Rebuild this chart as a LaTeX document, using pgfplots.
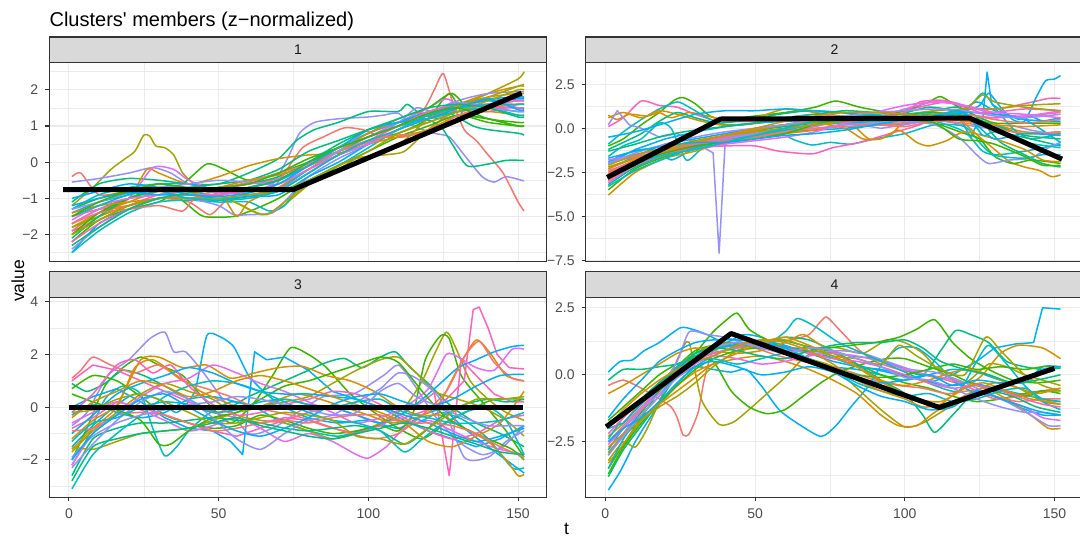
\documentclass[border=0pt]{standalone}
\usepackage{fontspec}
\setmainfont{Liberation Sans}
\usepackage{pgfplots}
\pgfplotsset{compat=1.18}

% ggplot2 hue palette (10 levels) and theme_bw greys
\definecolor{hA}{HTML}{F8766D}
\definecolor{hB}{HTML}{D89000}
\definecolor{hC}{HTML}{A3A500}
\definecolor{hD}{HTML}{39B600}
\definecolor{hE}{HTML}{00BF7D}
\definecolor{hF}{HTML}{00BFC4}
\definecolor{hG}{HTML}{00B0F6}
\definecolor{hH}{HTML}{9590FF}
\definecolor{hI}{HTML}{E76BF3}
\definecolor{hJ}{HTML}{FF62BC}
\definecolor{grey10}{HTML}{1A1A1A}
\definecolor{grey20}{HTML}{333333}
\definecolor{grey30}{HTML}{4D4D4D}
\definecolor{grey85}{HTML}{D9D9D9}
\definecolor{grey92}{HTML}{EBEBEB}

\pgfplotsset{
  facet/.style={
    scale only axis, width=248.7pt, anchor=south west,
    xmin=-6.55, xmax=159.55,
    axis line style={draw=none},
    tick pos=left, tick align=outside,
    major tick length=2pt, minor tick length=0pt,
    tick style={grey20, line width=0.55pt},
    xtick={0,50,100,150}, minor xtick={25,75,125},
    xmajorgrids, ymajorgrids, xminorgrids, yminorgrids,
    major grid style={grey92, line width=0.55pt},
    minor grid style={grey92, line width=0.28pt},
    ticklabel style={font=\fontsize{7}{8}\selectfont, text=grey30},
    clip mode=individual,
  },
  toprow/.style={height=99.5pt, xticklabels={}, xtick style={draw=none}},
  botrow/.style={height=100pt, xticklabels={0,50,100,150}},
  mem/.style={no markers, line width=0.75pt, smooth, tension=0.4, line join=round},
  proto/.style={no markers, black, line width=2.5pt, line join=round, sharp plot},
}
\newcommand{\panelframe}{\draw[grey20, line width=0.55pt] (rel axis cs:0,0) rectangle (rel axis cs:1,1);}

\begin{document}
\begin{tikzpicture}
\path[use as bounding box] (0pt,0pt) rectangle (540pt,268pt);

\node[anchor=base west, inner sep=0pt, font=\fontsize{10}{12}\selectfont] at (24.6pt,254.6pt) {Clusters\textquotesingle{} members (z−normalized)};

% ---------------- cluster 1 ----------------
\begin{axis}[facet, toprow, at={(24.65pt,137.15pt)},
  ymin=-2.75, ymax=2.75, ytick={-2,-1,0,1,2}, yticklabels={−2,−1,0,1,2},
  minor ytick={-2.5,-1.5,-0.5,0.5,1.5,2.5}]
\addplot[mem,hA] coordinates {(1,-0.4)(4,-0.3)(10,-0.9)(20,-0.8)(30,-0.7)(40,-0.8)(50,-0.75)(60,-0.6)(70,-0.45)(80,-0.1)(90,0.3)(100,0.55)(110,0.8)(120,1.1)(130,1.4)(140,1.6)(150,1.8)(152,1.8)};
\addplot[mem,hC] coordinates {(1,-1.2)(8,-0.7)(14,-0.2)(18,0.05)(22,0.3)(25,0.75)(27,0.72)(29,0.45)(32,0.4)(35,0.2)(38,-0.3)(42,-0.6)(50,-0.9)(58,-1.2)(64,-1.45)(70,-1.3)(76,-0.9)(85,-0.3)(95,0.1)(105,0.2)(112,0.3)(120,0.9)(130,1.5)(140,1.9)(150,2.3)(152,2.5)};
\addplot[mem,hH] coordinates {(1,-0.55)(10,-0.45)(20,-0.3)(28,-0.15)(34,-0.3)(40,-0.6)(50,-0.8)(60,-0.8)(68,-0.6)(73,0.1)(77,0.8)(82,1.1)(90,1.2)(100,1.25)(105,1.3)(110,1.35)(115,1.0)(122,0.8)(127,0.7)(132,0.2)(138,-0.4)(142,-0.55)(146,-0.4)(152,-0.52)};
\addplot[mem,hE] coordinates {(1,-1.1)(10,-0.6)(20,-0.45)(30,-0.5)(40,-0.6)(50,-0.6)(60,-0.3)(70,0.1)(76,0.6)(82,0.9)(90,1.1)(100,1.4)(110,1.4)(113,1.6)(118,1.3)(125,1.2)(130,1.3)(140,1.2)(150,1.0)(152,1.0)};
\addplot[mem,hA] coordinates {(1,-1.9)(10,-1.4)(20,-1.2)(30,-1.0)(40,-1.1)(47,-1.45)(52,-1.1)(60,-0.7)(70,-0.5)(80,-0.1)(90,0.3)(100,0.7)(110,1.0)(118,1.4)(122,2.0)(125,2.45)(128,1.7)(132,0.9)(136,0.6)(140,0.2)(145,-0.3)(150,-1.1)(152,-1.35)};
\addplot[mem,hE] coordinates {(1,-1.7)(10,-1.3)(20,-1.0)(30,-0.9)(40,-0.8)(50,-0.7)(60,-0.6)(70,-0.4)(80,0.0)(90,0.4)(100,0.7)(110,1.0)(118,1.2)(124,1.0)(128,0.5)(133,-0.1)(140,-0.05)(146,0.05)(152,0.05)};
\addplot[mem,hA] coordinates {(1,-1.5)(10,-1.3)(20,-1.2)(30,-1.0)(40,-1.0)(50,-0.9)(60,-0.8)(68,-0.7)(72,-0.3)(78,0.4)(85,0.7)(92,0.95)(98,0.9)(105,0.7)(112,0.7)(120,0.9)(130,1.5)(140,1.6)(150,1.7)(152,1.7)};
\addplot[mem,hD] coordinates {(1,-2.2)(10,-1.6)(20,-1.3)(30,-1.1)(35,-0.9)(40,-1.2)(45,-1.5)(55,-1.5)(62,-1.3)(70,-1.0)(80,-0.5)(90,-0.1)(100,0.3)(110,0.7)(120,1.0)(130,1.3)(140,1.1)(150,1.0)(152,1.0)};
\addplot[mem,hD] coordinates {(1,-1.3)(10,-1.0)(20,-0.8)(30,-0.8)(38,-0.6)(46,-0.05)(52,-0.2)(60,-0.5)(70,-0.3)(80,0.0)(90,0.3)(100,0.6)(110,0.8)(120,1.2)(127,1.9)(132,1.3)(140,1.5)(150,1.6)(152,1.6)};
\addplot[mem,hB] coordinates {(1,-2.0)(10,-1.5)(20,-1.0)(26,-0.2)(30,-0.3)(40,-0.6)(50,-0.4)(60,-0.1)(70,0.1)(80,0.2)(90,0.25)(100,0.5)(110,0.9)(120,1.3)(130,1.6)(140,1.9)(150,2.1)(152,2.1)};
\addplot[mem,hG] coordinates {(1,-2.5)(10,-1.7)(20,-1.3)(30,-1.0)(40,-1.0)(50,-1.05)(60,-0.95)(70,-0.8)(80,-0.3)(90,0.2)(100,0.5)(110,0.9)(120,1.2)(130,1.5)(140,1.7)(150,1.5)(152,1.5)};
\addplot[mem,hF] coordinates {(1,-2.5)(10,-1.9)(20,-1.4)(30,-1.1)(40,-1.05)(50,-1.1)(60,-1.1)(67,-1.35)(72,-1.2)(78,-0.6)(88,-0.2)(100,0.4)(110,0.9)(120,1.2)(130,1.4)(140,1.5)(150,1.4)(152,1.4)};
\addplot[mem,hI] coordinates {(1,-1.7)(10,-1.3)(20,-1.0)(28,-0.15)(35,-0.2)(40,-0.5)(50,-0.8)(60,-0.9)(70,-0.7)(80,-0.2)(90,0.3)(100,0.7)(110,1.1)(120,1.5)(126,1.75)(132,1.5)(140,1.4)(150,1.6)(152,1.6)};
\addplot[mem,hH] coordinates {(1,-2.4)(10,-1.8)(20,-1.3)(30,-1.0)(40,-1.0)(50,-1.2)(55,-1.45)(60,-1.45)(68,-1.4)(73,-1.0)(80,-0.4)(90,0.1)(100,0.5)(110,1.1)(120,1.3)(130,1.7)(140,1.9)(150,1.95)(152,1.95)};
\addplot[mem,hJ] coordinates {(1,-1.9)(10,-1.6)(20,-1.2)(30,-0.9)(40,-0.8)(50,-0.7)(60,-0.6)(70,-0.5)(80,-0.1)(90,0.3)(100,0.7)(110,1.0)(120,1.2)(130,1.4)(140,1.5)(150,1.5)(152,1.5)};
\addplot[mem,hB] coordinates {(1,-1.8)(10,-1.4)(20,-1.1)(30,-0.8)(40,-0.7)(50,-0.8)(56,-1.5)(60,-1.1)(70,-0.7)(80,-0.2)(90,0.2)(100,0.5)(110,0.7)(120,0.9)(130,1.3)(140,1.4)(150,1.3)(152,1.3)};
\addplot[mem,hC] coordinates {(1,-1.8)(10,-1.5)(20,-1.2)(30,-1.0)(40,-1.0)(50,-0.9)(60,-1.3)(66,-1.45)(72,-1.1)(80,-0.6)(90,-0.2)(96,0.1)(104,0.2)(112,0.6)(120,1.2)(130,1.6)(140,1.8)(150,2.1)(152,2.15)};
\addplot[mem,hE] coordinates {(1,-2.1)(10,-1.5)(20,-1.0)(30,-0.8)(40,-0.7)(50,-0.6)(60,-0.5)(70,-0.2)(80,0.3)(90,0.6)(100,0.9)(110,1.1)(120,1.3)(127,1.35)(135,1.0)(140,0.9)(150,0.8)(152,0.75)};
\addplot[mem,hD] coordinates {(1,-2.0)(10,-1.4)(20,-1.0)(30,-0.7)(40,-0.75)(50,-0.8)(60,-0.7)(70,-0.5)(80,0.0)(90,0.4)(100,0.8)(110,1.2)(120,1.5)(128,1.9)(135,1.3)(140,1.2)(150,1.0)(152,1.0)};
\addplot[mem,hG] coordinates {(1,-1.4)(10,-1.1)(20,-0.9)(30,-0.6)(40,-0.8)(50,-0.9)(60,-0.7)(70,-0.5)(80,-0.1)(90,0.4)(100,0.8)(110,1.1)(120,1.4)(130,1.6)(140,1.75)(150,1.8)(152,1.8)};
\addplot[mem,hF] coordinates {(1,-1.3)(10,-0.9)(20,-0.7)(30,-0.6)(40,-0.6)(50,-0.8)(60,-0.9)(70,-0.75)(80,-0.2)(90,0.3)(100,0.7)(110,1.0)(120,1.2)(130,1.4)(140,1.5)(150,1.3)(152,1.3)};
\addplot[mem,hG] coordinates {(1,-1.0)(10,-0.8)(20,-0.6)(30,-0.7)(40,-0.9)(50,-1.0)(60,-0.95)(70,-0.9)(80,-0.4)(90,0.0)(100,0.5)(110,0.9)(120,1.3)(130,1.6)(140,1.7)(150,1.75)(152,1.75)};
\addplot[mem,hI] coordinates {(1,-1.6)(10,-1.2)(20,-1.0)(30,-0.9)(40,-0.75)(50,-0.85)(60,-0.8)(70,-0.75)(80,-0.3)(90,0.2)(100,0.5)(110,0.9)(120,1.3)(130,1.5)(140,1.6)(150,1.7)(152,1.7)};
\addplot[mem,hB] coordinates {(1,-1.4)(10,-1.2)(20,-1.1)(30,-1.0)(40,-0.9)(50,-0.7)(60,-0.5)(70,-0.35)(80,-0.1)(90,0.3)(100,0.8)(110,1.1)(120,1.2)(130,1.55)(140,1.8)(150,1.9)(152,1.9)};
\addplot[mem,hA] coordinates {(1,-1.7)(10,-1.4)(20,-1.3)(30,-1.2)(38,-1.35)(42,-1.0)(50,-0.75)(60,-0.55)(70,-0.3)(80,-0.05)(90,0.3)(100,0.6)(110,0.75)(120,0.8)(130,1.3)(140,1.5)(150,1.6)(152,1.6)};
\addplot[mem,hH] coordinates {(1,-1.3)(10,-1.1)(20,-0.85)(30,-0.7)(40,-0.6)(50,-0.5)(60,-0.55)(70,-0.6)(80,-0.2)(90,0.3)(100,0.9)(110,1.1)(116,1.5)(122,1.4)(128,1.65)(135,1.6)(140,1.5)(150,1.4)(152,1.4)};
\addplot[mem,hC] coordinates {(1,-2.0)(10,-1.6)(20,-1.2)(30,-1.0)(40,-1.0)(50,-1.0)(60,-0.9)(70,-0.8)(80,-0.5)(90,-0.1)(100,0.3)(110,0.8)(120,1.1)(130,1.4)(140,1.7)(150,2.0)(152,2.0)};
\addplot[mem,hJ] coordinates {(1,-2.2)(10,-1.7)(20,-1.3)(30,-1.0)(40,-0.9)(50,-0.9)(60,-0.8)(70,-0.6)(80,-0.2)(90,0.2)(100,0.6)(110,1.0)(120,1.4)(130,1.6)(140,1.6)(150,1.7)(152,1.7)};
\addplot[mem,hF] coordinates {(1,-1.5)(10,-1.2)(20,-0.9)(30,-0.8)(40,-1.0)(50,-1.05)(60,-1.0)(70,-0.8)(80,-0.3)(90,0.2)(100,0.6)(110,0.9)(120,1.3)(130,1.5)(140,1.6)(150,1.6)(152,1.6)};
\addplot[mem,hG] coordinates {(1,-1.2)(10,-1.0)(20,-0.85)(30,-0.9)(40,-0.9)(50,-0.95)(60,-0.85)(70,-0.6)(80,-0.1)(90,0.4)(100,0.9)(110,1.1)(120,1.2)(130,1.5)(140,1.75)(150,1.45)(152,1.45)};
\addplot[mem,hD] coordinates {(1,-1.5)(10,-1.1)(20,-0.8)(30,-0.6)(40,-0.7)(50,-0.7)(60,-0.6)(70,-0.3)(80,0.1)(90,0.4)(100,0.7)(110,1.0)(120,1.35)(130,1.5)(140,1.2)(150,1.1)(152,1.1)};
\addplot[mem,hE] coordinates {(1,-2.3)(10,-1.8)(20,-1.3)(30,-1.0)(40,-0.85)(50,-0.75)(60,-0.7)(70,-0.5)(80,0.0)(90,0.5)(100,0.9)(110,1.2)(120,1.5)(130,1.6)(140,1.5)(150,1.25)(152,1.25)};
\addplot[proto] coordinates {(-1.9,-0.76)(74.8,-0.76)(151.2,1.91)};
\panelframe
\end{axis}

% ---------------- cluster 2 ----------------
\begin{axis}[facet, toprow, at={(292.85pt,137.15pt)},
  ymin=-7.58, ymax=3.73, ytick={-7.5,-5,-2.5,0,2.5}, yticklabels={−7.5,−5.0,−2.5,0.0,2.5},
  minor ytick={-6.25,-3.75,-1.25,1.25}]
\addplot[mem,hJ] coordinates {(1,0.1)(6,0.6)(12,1.55)(18,1.3)(24,1.2)(30,0.8)(38,0.4)(50,0.4)(60,0.6)(70,0.8)(80,0.6)(90,0.5)(100,1.0)(110,1.4)(115,1.5)(120,1.2)(130,1.1)(140,1.4)(148,1.7)(152,1.7)};
\addplot[mem,hD] coordinates {(1,-1.0)(6,-0.6)(12,0.2)(18,0.9)(23,1.6)(26,1.75)(30,1.4)(35,0.7)(40,0.5)(50,0.7)(60,0.9)(70,1.2)(77,1.55)(85,1.2)(95,0.9)(100,1.0)(108,1.5)(112,1.8)(118,1.2)(124,0.7)(130,0.3)(140,0.3)(152,0.3)};
\addplot[mem,hB] coordinates {(1,0.75)(4,0.5)(8,0.8)(14,0.7)(18,0.9)(22,0.6)(28,0.9)(34,0.7)(40,0.5)(50,0.6)(60,1.1)(70,0.9)(80,0.6)(88,-0.6)(95,-0.4)(100,0.4)(110,0.9)(120,0.5)(130,0.2)(140,-0.2)(152,-0.3)};
\addplot[mem,hF] coordinates {(1,-0.9)(6,-0.2)(12,0.5)(18,1.1)(24,1.5)(28,1.2)(34,0.6)(40,0.2)(50,0.3)(60,0.5)(70,0.6)(80,0.7)(90,0.6)(100,0.5)(110,0.7)(120,1.0)(126,2.0)(130,1.2)(136,0.0)(142,-0.6)(152,-0.3)};
\addplot[mem,hB] coordinates {(1,0.6)(6,0.9)(12,0.6)(18,1.0)(24,0.8)(30,0.5)(38,0.2)(46,0.2)(56,0.4)(66,0.6)(76,0.5)(86,0.3)(96,0.2)(106,0.4)(116,0.6)(124,0.3)(132,0.0)(140,-0.3)(152,-0.2)};
\addplot[mem,hE] coordinates {(1,-1.2)(6,-0.8)(12,-0.3)(18,0.4)(24,0.9)(30,0.6)(38,0.3)(48,0.5)(58,0.8)(68,1.0)(78,0.9)(88,0.7)(98,0.8)(108,1.2)(116,1.0)(124,0.4)(132,-0.2)(142,-0.6)(152,-1.0)};
\addplot[mem,hG] coordinates {(1,-1.9)(6,-1.5)(12,-1.2)(18,-1.3)(22,-1.8)(28,-1.3)(34,-0.8)(40,-0.6)(50,-0.4)(60,-0.2)(70,-0.1)(80,0.0)(90,0.2)(100,0.3)(110,0.5)(118,0.9)(124,1.5)(130,1.0)(140,0.5)(152,0.4)};
\addplot[mem,hH,sharp plot] coordinates {(1,0.2)(4,1.0)(8,0.2)(12,0.0)(18,-0.5)(24,-0.3)(30,-0.8)(36,-1.4)(38,-7.1)(40,-0.85)(46,-0.3)(55,0.1)(65,0.3)(75,0.4)(85,0.2)(92,0.0)(100,0.2)(110,0.5)(120,0.2)(128,0.0)(135,0.2)(142,-0.1)(152,-0.4)};
\addplot[mem,hF] coordinates {(1,-1.6)(6,-1.0)(12,-0.6)(18,0.3)(22,0.0)(27,-1.8)(32,-1.2)(40,-0.6)(50,-0.5)(57,-0.2)(63,-0.65)(69,-0.95)(75,-0.8)(82,-0.9)(90,-0.6)(100,-0.3)(110,0.2)(120,0.1)(126,-1.0)(130,-1.5)(140,-1.3)(152,-0.9)};
\addplot[mem,hG,sharp plot] coordinates {(1,-2.0)(10,-1.2)(20,-0.6)(30,-0.2)(40,0.1)(50,0.3)(60,0.4)(70,0.4)(80,0.3)(90,0.4)(100,0.5)(110,0.4)(118,0.7)(122,-0.5)(124,0.2)(126,0.5)(127.5,3.2)(129,1.4)(133,0.9)(138,0.5)(142,0.7)(146,0.4)(152,0.6)};
\addplot[mem,hG] coordinates {(1,-2.3)(10,-1.6)(20,-0.9)(30,-0.6)(40,-0.3)(50,0.0)(60,0.2)(70,0.3)(80,0.5)(90,0.5)(100,0.7)(110,0.8)(120,1.0)(125,1.3)(128,2.0)(132,1.2)(136,0.5)(140,0.4)(144,1.8)(147,2.7)(150,2.8)(152,3.0)};
\addplot[mem,hJ] coordinates {(1,-2.0)(10,-1.6)(20,-1.3)(30,-1.1)(40,-1.0)(50,-1.0)(58,-1.3)(69,-1.45)(76,-1.1)(85,-0.8)(95,-0.3)(105,0.2)(112,0.8)(120,0.8)(130,0.6)(140,0.7)(152,0.9)};
\addplot[mem,hB] coordinates {(1,-3.8)(10,-2.5)(20,-1.7)(30,-1.3)(40,-0.8)(50,-0.5)(60,-0.3)(70,-0.1)(80,0.2)(90,0.3)(100,0.4)(110,0.6)(118,0.5)(125,-0.5)(130,-1.2)(135,-1.9)(140,-2.2)(145,-2.4)(149,-2.75)(152,-2.65)};
\addplot[mem,hD] coordinates {(1,-3.5)(10,-2.3)(20,-1.6)(30,-1.1)(40,-0.6)(50,-0.2)(60,0.2)(70,0.5)(80,0.7)(90,0.6)(100,0.6)(110,0.3)(120,-0.3)(125,-0.6)(130,-1.6)(136,-2.0)(142,-1.8)(148,-1.9)(152,-2.0)};
\addplot[mem,hE] coordinates {(1,-3.2)(10,-2.2)(20,-1.5)(30,-1.0)(40,-0.5)(50,-0.1)(60,0.1)(70,0.3)(80,0.5)(90,0.5)(100,0.7)(110,1.0)(118,1.2)(125,0.5)(132,-0.8)(140,-1.5)(146,-2.0)(152,-2.2)};
\addplot[mem,hA] coordinates {(1,-2.6)(10,-1.8)(20,-1.3)(30,-0.9)(40,-0.5)(50,-0.3)(60,0.0)(70,0.2)(80,0.3)(90,0.2)(100,0.3)(110,0.6)(120,0.8)(130,0.5)(140,0.3)(152,0.5)};
\addplot[mem,hC] coordinates {(1,-2.2)(10,-1.7)(20,-1.2)(30,-0.8)(40,-0.4)(50,-0.1)(60,0.2)(70,0.4)(80,0.6)(90,0.7)(100,0.8)(110,1.0)(120,1.1)(130,1.1)(140,1.3)(152,1.4)};
\addplot[mem,hI] coordinates {(1,-1.8)(10,-1.5)(20,-1.2)(30,-0.9)(40,-0.6)(50,-0.4)(60,-0.2)(70,0.1)(80,0.5)(90,0.9)(100,1.3)(110,1.5)(120,1.3)(130,0.8)(140,0.7)(152,1.0)};
\addplot[mem,hH] coordinates {(1,-2.9)(10,-2.0)(20,-1.4)(30,-1.0)(40,-0.6)(50,-0.3)(60,-0.1)(70,0.0)(80,0.2)(90,0.3)(100,0.4)(110,0.2)(118,-0.5)(124,-1.5)(128,-2.0)(135,-1.8)(142,-1.7)(148,-1.1)(152,-0.8)};
\addplot[mem,hF] coordinates {(1,-3.3)(10,-2.4)(20,-1.7)(30,-1.1)(40,-0.7)(50,-0.4)(60,-0.1)(70,0.2)(80,0.3)(90,0.4)(100,0.5)(110,0.4)(120,-0.2)(126,-1.3)(132,-1.6)(140,-1.7)(146,-1.5)(152,-1.5)};
\addplot[mem,hB] coordinates {(1,-2.5)(10,-1.8)(20,-1.3)(30,-0.9)(40,-0.4)(50,-0.1)(60,0.2)(70,0.3)(80,0.0)(86,-0.6)(92,-0.6)(98,-0.1)(104,-0.8)(108,-1.0)(114,-0.7)(120,-0.2)(130,-0.6)(140,-1.2)(146,-1.8)(152,-1.9)};
\addplot[mem,hG] coordinates {(1,-0.5)(10,-0.2)(20,0.3)(30,0.8)(40,1.0)(50,1.0)(60,1.1)(70,1.0)(80,0.9)(90,0.7)(100,0.6)(110,0.5)(120,0.9)(130,0.8)(140,0.5)(152,-0.8)};
\addplot[mem,hJ] coordinates {(1,-2.4)(10,-1.9)(20,-1.4)(30,-0.9)(40,-0.5)(50,-0.2)(60,0.0)(70,0.2)(80,0.4)(90,0.5)(100,0.9)(105,1.5)(112,1.6)(118,1.4)(125,0.9)(130,0.9)(140,1.1)(152,1.0)};
\addplot[mem,hE] coordinates {(1,-1.3)(10,-0.9)(20,-0.4)(30,-0.1)(40,0.1)(50,0.3)(60,0.6)(70,0.8)(80,1.0)(90,0.9)(100,0.8)(110,0.9)(120,0.7)(130,0.2)(140,-0.4)(152,-0.6)};
\addplot[mem,hA] coordinates {(1,-3.0)(10,-2.0)(20,-1.5)(30,-1.0)(40,-0.7)(50,-0.5)(60,-0.2)(70,0.0)(80,0.1)(90,0.2)(100,0.1)(110,0.4)(120,0.3)(130,0.0)(140,-0.3)(152,-0.2)};
\addplot[mem,hD] coordinates {(1,-2.7)(10,-1.9)(20,-1.4)(30,-1.0)(40,-0.8)(50,-0.6)(60,-0.3)(70,0.2)(80,0.5)(90,0.6)(100,0.5)(110,0.3)(118,-0.6)(124,-0.7)(130,-0.9)(140,-1.6)(146,-2.1)(152,-2.1)};
\addplot[mem,hC] coordinates {(1,-2.1)(10,-1.5)(20,-1.1)(30,-0.7)(40,-0.4)(50,-0.2)(60,0.0)(70,0.2)(80,0.4)(90,0.5)(100,0.6)(110,0.8)(120,1.1)(126,1.9)(130,1.5)(140,1.2)(152,1.0)};
\addplot[mem,hI] coordinates {(1,-3.1)(10,-2.1)(20,-1.5)(30,-1.2)(40,-0.9)(50,-0.7)(60,-0.5)(70,-0.2)(80,0.3)(90,0.6)(100,1.1)(110,1.5)(120,1.3)(130,0.9)(140,0.8)(152,0.6)};
\addplot[mem,hF] coordinates {(1,-2.8)(10,-2.0)(20,-1.5)(30,-1.2)(40,-0.8)(50,-0.4)(60,0.0)(70,0.4)(80,0.6)(90,0.8)(100,0.5)(110,0.7)(120,0.9)(126,-0.4)(130,-0.2)(140,-0.8)(152,-1.1)};
\addplot[mem,hH] coordinates {(1,-2.0)(10,-1.4)(20,-0.9)(30,-0.5)(40,-0.2)(50,0.0)(60,0.2)(70,0.5)(80,0.7)(90,0.9)(100,1.0)(110,1.1)(120,1.0)(130,0.7)(140,0.6)(152,0.8)};
\addplot[mem,hB] coordinates {(1,-2.3)(10,-1.7)(20,-1.2)(30,-0.8)(40,-0.4)(50,0.0)(60,0.4)(70,0.7)(80,0.9)(90,0.9)(100,0.8)(110,0.6)(120,0.4)(130,0.2)(140,0.1)(152,0.2)};
\addplot[mem,hG] coordinates {(1,-1.7)(10,-1.3)(20,-1.0)(30,-0.8)(40,-0.8)(50,-0.6)(60,-0.4)(70,-0.3)(80,-0.1)(90,0.2)(100,0.5)(110,0.7)(118,1.0)(124,0.2)(130,-0.6)(140,-0.3)(152,-0.4)};
\addplot[proto] coordinates {(0.6,-2.79)(38.5,0.53)(121.7,0.58)(152.5,-1.75)};
\panelframe
\end{axis}

% ---------------- cluster 3 ----------------
\begin{axis}[facet, botrow, at={(24.65pt,19.35pt)},
  ymin=-3.42, ymax=4.17, ytick={-2,0,2,4}, yticklabels={−2,0,2,4},
  minor ytick={-3,-1,1,3}]
\addplot[mem,hH] coordinates {(1,-0.7)(6,-0.2)(13,1.2)(20,1.8)(27,2.6)(32,2.85)(35,2.1)(39,2.1)(45,1.3)(52,0.2)(60,-1.0)(68,-0.8)(75,-0.3)(85,0.4)(95,0.5)(105,1.2)(110,1.6)(115,0.9)(122,-0.3)(130,-1.3)(138,-1.8)(145,-1.5)(152,-0.7)};
\addplot[mem,hG] coordinates {(1,-1.5)(8,-0.7)(15,0.0)(22,0.5)(30,0.3)(36,-0.2)(42,0.6)(46,2.7)(50,2.7)(55,2.3)(60,1.2)(66,0.5)(72,0.0)(80,-0.4)(90,-0.6)(100,-0.5)(110,-0.8)(118,-0.3)(125,-0.1)(132,-0.8)(140,-1.5)(146,-2.0)(152,-2.5)};
\addplot[mem,hF] coordinates {(1,-2.2)(6,-1.2)(12,0.3)(18,0.8)(24,0.5)(28,-0.8)(32,-1.85)(36,-1.5)(40,-0.9)(46,-0.3)(54,0.2)(62,0.0)(70,-0.5)(80,-0.9)(90,-1.1)(100,-0.8)(108,-0.5)(116,-0.6)(124,-0.2)(132,-0.5)(140,-1.2)(148,-2.3)(152,-2.3)};
\addplot[mem,hD] coordinates {(1,-2.0)(6,-0.8)(12,0.8)(18,1.5)(24,1.9)(30,1.6)(38,1.2)(46,0.2)(54,-0.6)(62,0.2)(68,1.2)(74,2.25)(80,2.0)(86,1.5)(94,0.5)(102,-0.2)(110,-0.8)(118,-1.2)(126,-0.6)(134,-0.1)(142,0.3)(152,0.3)};
\addplot[mem,hG,sharp plot] coordinates {(1,0.0)(8,0.4)(16,0.7)(24,0.2)(32,-0.4)(40,-0.8)(48,-0.9)(54,-1.3)(58,-1.8)(62,2.1)(66,1.8)(72,1.9)(80,1.4)(88,0.6)(96,0.3)(104,0.0)(112,-0.5)(120,-0.9)(128,-1.2)(136,-1.5)(144,-1.2)(152,-0.7)};
\addplot[mem,hE] coordinates {(1,0.9)(6,0.6)(12,0.9)(18,1.4)(25,1.2)(32,0.8)(40,0.3)(50,-0.2)(60,0.4)(70,0.9)(80,1.4)(86,1.7)(92,1.85)(98,1.5)(104,1.9)(109,2.1)(114,1.5)(120,0.9)(128,0.0)(136,-0.6)(144,-1.0)(152,-1.5)};
\addplot[mem,hC] coordinates {(1,-1.7)(8,-0.9)(16,-0.2)(24,0.5)(32,0.9)(40,0.6)(48,0.3)(56,-0.3)(64,-0.5)(72,-0.6)(80,-0.9)(88,-1.2)(96,-1.0)(104,-0.6)(112,0.0)(118,1.0)(122,2.0)(126,2.85)(129,2.3)(134,1.0)(140,0.3)(146,-0.2)(152,-0.5)};
\addplot[mem,hD] coordinates {(1,0.7)(8,1.2)(16,1.0)(24,0.4)(32,-0.3)(40,-0.6)(48,-0.8)(56,-0.7)(64,-0.3)(72,-0.5)(80,-0.8)(88,-1.0)(96,-0.9)(104,-0.7)(110,-0.9)(115,-0.2)(119,1.8)(124,2.7)(127,2.6)(131,1.2)(138,0.2)(146,-0.9)(152,-1.9)};
\addplot[mem,hJ,sharp plot] coordinates {(1,-0.8)(8,-0.4)(16,0.2)(24,0.0)(32,-0.3)(40,-0.6)(48,-0.9)(56,-1.1)(64,-0.8)(72,-0.5)(80,-0.2)(88,0.0)(96,-0.3)(104,-0.6)(112,-0.4)(120,-0.1)(126,0.3)(132,1.0)(135,3.7)(137,3.8)(140,3.0)(143,2.0)(147,1.5)(152,1.45)};
\addplot[mem,hJ,sharp plot] coordinates {(1,1.0)(8,1.6)(16,1.4)(24,1.0)(32,0.6)(40,0.2)(48,-0.2)(56,-0.4)(64,-0.6)(72,-0.4)(80,-0.5)(88,-0.8)(96,-1.0)(104,-0.7)(112,-0.2)(118,0.2)(122,0.55)(127,-2.6)(131,1.8)(136,1.2)(142,0.5)(148,0.2)(152,0.2)};
\addplot[mem,hB] coordinates {(1,-1.2)(8,-0.5)(16,0.1)(24,1.8)(30,1.9)(38,1.5)(46,1.6)(54,1.1)(62,1.3)(70,1.5)(78,1.55)(86,1.2)(94,1.0)(102,0.6)(110,0.0)(118,-0.3)(124,0.2)(130,1.5)(136,2.55)(141,2.0)(146,1.2)(152,1.0)};
\addplot[mem,hG] coordinates {(1,-0.3)(8,0.1)(16,-0.2)(24,-0.4)(32,-0.2)(40,0.3)(48,0.4)(56,0.2)(64,0.0)(72,0.3)(80,0.1)(88,0.0)(96,-0.3)(104,-0.6)(112,-0.2)(118,0.3)(124,0.9)(130,1.5)(136,1.8)(142,2.1)(148,2.3)(152,2.35)};
\addplot[mem,hI] coordinates {(1,-2.2)(8,-1.0)(16,-0.3)(24,0.4)(32,0.9)(40,1.1)(48,1.6)(56,1.3)(64,0.9)(72,0.6)(80,0.2)(88,-0.2)(96,-0.6)(104,-0.4)(112,0.0)(120,0.7)(126,2.0)(130,1.9)(136,1.5)(142,1.4)(148,2.2)(152,2.2)};
\addplot[mem,hI] coordinates {(1,-0.6)(8,-0.2)(16,0.2)(24,-0.1)(32,-0.5)(40,-0.9)(48,-0.7)(56,-0.4)(64,-0.8)(72,-1.3)(80,-1.0)(88,-1.3)(96,-1.8)(100,-1.93)(106,-1.5)(112,-0.8)(120,-0.5)(128,-0.9)(136,-1.3)(144,-1.6)(152,-1.8)};
\addplot[mem,hA] coordinates {(1,1.1)(4,1.4)(8,1.9)(14,1.6)(22,1.3)(30,1.6)(38,1.0)(46,0.7)(54,0.4)(62,0.0)(70,-0.2)(78,-0.4)(86,-0.7)(94,-1.0)(102,-1.2)(110,-1.0)(118,-0.3)(126,0.6)(132,1.9)(137,2.5)(142,1.7)(148,1.1)(152,1.0)};
\addplot[mem,hB] coordinates {(1,-1.6)(8,-0.8)(16,0.0)(22,1.5)(28,1.8)(36,1.2)(44,0.6)(52,0.2)(60,-0.1)(68,0.2)(76,0.5)(84,0.3)(92,0.0)(100,-0.3)(108,-0.6)(116,-0.4)(124,-0.3)(132,-0.8)(140,-1.3)(146,-2.0)(150,-2.6)(152,-2.55)};
\addplot[mem,hE] coordinates {(1,-2.6)(8,-1.2)(16,-0.8)(24,-0.6)(32,-0.6)(40,-0.5)(48,-0.4)(56,-0.5)(64,-0.6)(72,-0.8)(80,-0.9)(88,-0.8)(96,-0.7)(104,-0.9)(112,-1.4)(118,-1.0)(124,-0.4)(132,0.1)(140,0.3)(146,0.2)(152,0.3)};
\addplot[mem,hC] coordinates {(1,-1.5)(8,-1.6)(16,-1.3)(24,-1.0)(32,-0.9)(40,-0.8)(48,-0.5)(56,-0.2)(64,0.0)(72,0.2)(80,0.4)(88,0.9)(96,1.4)(104,1.8)(110,1.9)(116,1.3)(122,0.6)(130,0.3)(138,0.0)(146,-0.5)(152,-1.1)};
\addplot[mem,hF] coordinates {(1,-3.1)(8,-1.8)(16,-1.0)(24,-0.3)(32,0.4)(40,0.8)(48,1.0)(56,0.9)(64,0.6)(72,0.2)(80,-0.2)(88,-0.5)(96,-0.6)(104,-0.9)(112,-1.7)(118,-1.2)(124,-0.7)(132,-0.2)(140,0.0)(146,-0.5)(152,-1.8)};
\addplot[mem,hH] coordinates {(1,-2.3)(8,-1.4)(16,-0.5)(24,0.2)(32,0.6)(40,0.3)(48,-0.4)(56,-1.2)(64,-1.6)(72,-1.0)(80,-0.5)(88,-0.3)(96,0.2)(104,0.7)(110,1.3)(116,1.1)(124,0.3)(132,-1.9)(140,-1.9)(146,-1.3)(152,-0.9)};
\addplot[mem,hD] coordinates {(1,0.5)(8,0.2)(16,-0.1)(24,-0.5)(30,-1.4)(34,-1.4)(40,-0.9)(48,-0.4)(56,-0.2)(64,0.3)(72,0.8)(80,1.0)(88,1.3)(96,1.6)(104,1.9)(110,1.7)(118,0.6)(126,-0.4)(134,-0.9)(142,-1.3)(148,-1.6)(152,-2.0)};
\addplot[mem,hJ] coordinates {(1,-0.2)(8,0.5)(16,1.6)(22,1.8)(28,1.3)(34,1.6)(40,0.8)(48,0.1)(56,-0.3)(64,-0.2)(72,0.1)(80,0.3)(88,0.6)(96,0.5)(104,0.1)(112,-0.4)(120,-0.9)(128,-1.2)(136,-1.0)(144,-0.5)(152,-0.3)};
\addplot[mem,hG] coordinates {(1,-1.0)(8,-0.3)(16,0.5)(24,0.9)(32,1.2)(40,1.5)(48,1.3)(56,0.9)(64,0.6)(72,0.5)(80,0.5)(88,0.4)(96,0.3)(104,0.0)(112,-0.3)(120,-0.6)(128,-1.0)(136,-1.3)(144,-1.1)(152,-0.8)};
\addplot[mem,hA] coordinates {(1,-0.9)(8,-0.8)(16,-0.3)(24,-0.2)(32,-0.3)(40,-0.6)(48,-0.9)(56,-0.8)(64,-0.6)(72,-0.5)(80,-0.6)(88,-0.4)(96,-0.3)(104,-0.3)(112,-0.6)(120,-0.6)(128,-0.7)(136,-1.0)(144,-1.5)(152,-1.9)};
\addplot[mem,hB] coordinates {(1,-0.4)(8,0.2)(16,0.6)(24,1.0)(32,0.8)(40,0.4)(48,0.6)(56,1.0)(64,1.2)(72,1.0)(80,0.7)(88,0.4)(96,0.1)(104,-0.2)(112,-0.6)(120,-1.3)(128,-1.5)(136,-1.1)(144,-0.6)(152,0.6)};
\addplot[mem,hF] coordinates {(1,-1.3)(8,-0.6)(16,-0.4)(24,0.0)(32,0.2)(40,0.1)(48,-0.2)(56,-0.1)(64,0.2)(72,0.3)(80,0.1)(88,0.0)(96,0.2)(104,0.3)(112,-0.2)(120,-0.4)(128,-0.6)(136,-0.6)(144,-0.5)(152,-0.2)};
\addplot[mem,hC] coordinates {(1,-0.2)(8,-0.1)(16,0.3)(24,0.5)(32,0.2)(40,-0.2)(48,-0.6)(56,-0.6)(64,-0.4)(72,-0.2)(80,-0.3)(88,-0.5)(96,-1.1)(104,-1.2)(112,-1.4)(120,-0.8)(128,-0.2)(136,0.3)(144,0.3)(152,0.4)};
\addplot[mem,hE] coordinates {(1,-2.8)(8,-1.5)(16,-1.2)(24,-1.0)(32,-0.9)(40,-0.8)(48,-0.6)(56,-0.4)(64,-0.7)(72,-0.9)(80,-1.1)(88,-1.2)(96,-1.0)(104,-0.8)(112,-0.6)(120,-0.8)(128,-1.1)(136,-1.4)(144,-1.7)(152,-1.8)};
\addplot[mem,hH] coordinates {(1,-1.9)(8,-1.1)(16,-0.6)(24,-0.3)(32,-0.1)(40,0.1)(48,0.2)(56,0.4)(64,0.3)(72,0.1)(80,-0.1)(88,-0.3)(96,-0.2)(104,0.6)(110,0.9)(116,0.4)(124,0.0)(132,-0.4)(140,-0.7)(148,-0.7)(152,-0.7)};
\addplot[mem,hG] coordinates {(1,-2.0)(8,-1.0)(16,-0.3)(24,0.3)(32,0.5)(40,0.0)(48,-0.5)(56,-0.9)(64,-1.1)(72,-0.8)(80,-0.4)(88,0.1)(96,0.4)(104,0.5)(112,0.2)(120,0.0)(128,0.3)(136,0.8)(144,1.2)(152,1.25)};
\addplot[proto] coordinates {(0,-0.02)(151.5,-0.02)};
\panelframe
\end{axis}

% ---------------- cluster 4 ----------------
\begin{axis}[facet, botrow, at={(292.85pt,19.35pt)},
  ymin=-4.57, ymax=2.89, ytick={-2.5,0,2.5}, yticklabels={−2.5,0.0,2.5},
  minor ytick={-3.75,-1.25,1.25}]
\addplot[mem,hG] coordinates {(1,-4.3)(5,-3.6)(10,-2.5)(15,-1.6)(20,-0.8)(25,-0.2)(30,0.3)(36,0.7)(42,1.0)(50,1.2)(58,1.1)(66,0.9)(74,0.7)(82,0.4)(90,0.2)(98,0.0)(106,-0.2)(114,-0.4)(122,-0.3)(130,-0.5)(138,-0.7)(146,-0.9)(152,-1.0)};
\addplot[mem,hG] coordinates {(1,0.1)(5,0.5)(9,0.55)(13,0.9)(18,1.2)(25,1.75)(29,1.7)(34,1.5)(40,1.2)(46,1.5)(52,1.4)(60,1.0)(68,0.6)(76,0.3)(84,0.2)(92,0.0)(100,-0.2)(108,0.0)(116,0.2)(124,0.1)(132,-0.2)(140,-0.3)(146,0.3)(152,0.3)};
\addplot[mem,hD] coordinates {(1,-3.0)(6,-2.2)(12,-1.4)(18,-0.6)(24,0.0)(30,0.8)(36,1.6)(40,2.0)(44,2.3)(48,1.7)(54,1.3)(60,1.0)(68,0.9)(76,0.8)(84,0.4)(92,0.0)(100,-0.3)(108,-0.5)(116,-0.8)(124,-1.0)(132,-0.9)(140,-0.7)(146,-0.6)(152,-0.6)};
\addplot[mem,hA] coordinates {(1,-0.4)(6,-0.2)(12,-0.5)(18,-0.9)(22,-1.2)(24,-1.6)(26,-2.25)(28,-2.2)(31,-1.4)(33,-0.2)(36,0.9)(42,1.2)(50,1.0)(58,0.7)(66,0.5)(74,0.3)(82,0.1)(90,-0.2)(98,-0.4)(106,-0.5)(114,-0.7)(122,-0.6)(130,-0.8)(138,-1.0)(146,-0.9)(152,-0.9)};
\addplot[mem,hA] coordinates {(1,-2.5)(6,-1.9)(12,-1.2)(18,-0.5)(24,0.2)(30,0.7)(38,1.0)(46,1.1)(54,1.2)(62,1.3)(68,1.5)(72,2.0)(74,2.15)(78,1.7)(84,1.0)(90,0.5)(98,0.2)(106,0.0)(114,-0.2)(122,-0.5)(130,-0.9)(138,-0.8)(146,-0.6)(152,-0.5)};
\addplot[mem,hG] coordinates {(1,-2.8)(6,-2.0)(12,-1.3)(18,-0.6)(24,-0.1)(30,0.3)(36,0.2)(42,0.1)(47,0.2)(52,-0.4)(58,-1.3)(64,-1.8)(72,-2.3)(77,-1.9)(82,-1.2)(88,-0.4)(93,0.5)(98,1.0)(104,1.0)(110,0.5)(116,-0.2)(122,-0.6)(130,-0.8)(138,-1.2)(146,-1.5)(152,-1.5)};
\addplot[mem,hC] coordinates {(1,-3.2)(6,-2.5)(10,-2.7)(14,-2.0)(20,-0.5)(25,0.8)(28,1.2)(32,-0.9)(38,-1.85)(43,-1.75)(49,-1.2)(55,-0.6)(60,-0.1)(66,0.6)(72,1.0)(78,1.0)(86,0.8)(94,1.3)(100,1.2)(106,0.8)(112,0.1)(120,-0.3)(128,0.4)(134,0.3)(140,0.0)(146,-0.2)(152,-0.4)};
\addplot[mem,hD] coordinates {(1,-1.7)(6,-1.2)(12,-0.6)(18,0.0)(24,0.4)(30,0.6)(36,0.5)(42,-0.6)(48,-1.2)(54,-1.45)(60,-1.3)(66,-0.8)(72,-0.3)(78,0.1)(86,0.4)(94,0.6)(100,0.6)(108,0.3)(116,0.0)(124,-0.4)(132,-0.6)(140,-0.8)(146,-0.6)(152,-0.7)};
\addplot[mem,hD] coordinates {(1,-3.5)(6,-2.6)(12,-1.6)(18,-0.6)(24,0.3)(30,0.9)(36,1.1)(42,1.2)(50,1.1)(58,1.0)(66,1.0)(74,1.0)(82,1.1)(90,1.2)(98,1.4)(104,1.7)(110,2.05)(116,1.2)(122,0.6)(128,0.2)(136,-0.2)(144,-0.3)(152,-0.2)};
\addplot[mem,hE] coordinates {(1,-0.2)(6,0.2)(12,0.2)(18,0.3)(24,0.4)(30,0.7)(36,1.0)(42,1.1)(50,1.2)(58,1.3)(66,1.1)(74,0.9)(82,0.7)(90,0.6)(98,0.3)(106,0.0)(112,0.9)(117,1.65)(122,1.5)(128,1.2)(134,0.5)(140,0.3)(146,0.2)(152,0.25)};
\addplot[mem,hC] coordinates {(1,-2.3)(6,-1.8)(12,-1.0)(18,-0.3)(24,0.3)(30,0.8)(36,1.1)(44,1.2)(52,1.1)(60,0.9)(68,0.6)(76,0.3)(84,-0.5)(92,-1.3)(100,-1.95)(106,-1.8)(112,-1.4)(118,-1.0)(124,-0.6)(130,-0.3)(138,-0.5)(146,-1.0)(152,-1.1)};
\addplot[mem,hE] coordinates {(1,-3.8)(6,-2.8)(12,-1.9)(18,-1.0)(24,0.0)(30,0.6)(36,0.8)(44,1.0)(52,1.2)(60,1.4)(68,1.3)(76,0.9)(84,0.4)(92,-0.2)(100,-0.7)(106,-1.5)(110,-2.15)(116,-1.5)(122,-0.8)(128,-0.6)(136,-0.8)(144,-1.2)(152,-1.4)};
\addplot[mem,hG,sharp plot] coordinates {(1,-2.0)(6,-1.8)(12,-1.1)(18,-0.4)(24,0.3)(30,0.8)(36,1.0)(44,1.1)(52,1.3)(60,1.1)(68,0.8)(76,0.5)(84,0.3)(92,0.2)(100,0.0)(108,-0.3)(116,0.0)(124,0.5)(130,1.0)(137,1.15)(143,1.2)(146,2.5)(152,2.45)};
\addplot[mem,hB] coordinates {(1,-0.7)(6,-0.4)(12,0.0)(18,0.4)(24,0.8)(30,1.0)(36,0.9)(44,0.8)(52,0.9)(60,1.2)(66,1.5)(72,1.1)(80,0.6)(88,0.0)(96,-0.5)(104,-0.9)(112,-1.0)(120,-0.5)(126,0.0)(132,0.8)(138,1.1)(146,1.0)(152,0.6)};
\addplot[mem,hB] coordinates {(1,-3.3)(6,-2.6)(12,-1.7)(18,-1.0)(24,-0.4)(30,0.1)(36,0.4)(44,0.6)(52,0.7)(60,0.5)(68,0.2)(76,-0.2)(84,-0.7)(92,-1.5)(98,-1.9)(104,-1.9)(110,-1.4)(118,-0.9)(126,-0.5)(134,-0.9)(142,-1.5)(148,-2.0)(152,-2.0)};
\addplot[mem,hH] coordinates {(1,-2.9)(6,-2.2)(12,-1.3)(18,-0.5)(24,0.5)(28,1.6)(34,1.5)(40,1.4)(46,1.2)(54,1.0)(62,0.9)(70,0.8)(78,0.9)(86,0.8)(94,0.5)(102,0.2)(110,0.1)(118,-0.2)(126,-0.6)(134,-1.0)(142,-1.5)(148,-1.9)(152,-1.9)};
\addplot[mem,hI] coordinates {(1,-2.6)(6,-2.0)(12,-1.3)(18,-0.7)(24,-0.1)(30,0.4)(36,0.7)(44,0.6)(52,0.4)(60,0.5)(68,0.7)(76,0.8)(84,0.7)(92,0.5)(100,0.2)(108,0.0)(116,-0.2)(124,-0.6)(132,-0.9)(140,-1.2)(146,-1.6)(152,-1.7)};
\addplot[mem,hF] coordinates {(1,-2.4)(6,-1.6)(12,-0.9)(18,-0.3)(24,0.2)(30,0.6)(36,0.9)(44,1.2)(52,1.0)(60,1.6)(64,2.1)(70,1.8)(78,1.2)(86,0.8)(94,0.4)(102,0.0)(110,-0.4)(118,-0.6)(124,0.5)(128,1.1)(134,0.4)(140,-0.4)(146,-1.0)(152,-1.3)};
\addplot[mem,hD] coordinates {(1,-3.7)(6,-2.7)(12,-1.8)(18,-1.1)(24,-0.4)(30,0.2)(36,0.6)(44,0.9)(52,1.0)(60,0.8)(68,0.5)(76,0.2)(84,0.0)(92,-0.1)(100,0.0)(108,0.2)(116,0.4)(124,0.2)(132,0.3)(140,0.2)(146,0.3)(152,0.3)};
\addplot[mem,hJ] coordinates {(1,-2.2)(6,-1.6)(12,-1.0)(18,-0.4)(24,0.1)(30,0.5)(36,0.8)(44,1.0)(52,1.1)(60,1.0)(68,0.8)(76,0.6)(84,0.5)(92,0.3)(100,0.0)(108,-0.3)(116,-0.5)(124,-0.4)(132,-0.6)(140,-0.9)(146,-1.1)(152,-1.2)};
\addplot[mem,hB] coordinates {(1,-2.7)(6,-2.2)(12,-1.6)(18,-1.1)(24,-0.6)(30,-0.1)(36,0.4)(44,0.8)(52,1.2)(60,1.4)(68,1.1)(76,0.7)(84,0.3)(92,-0.2)(100,-0.4)(108,-0.2)(116,0.1)(122,0.2)(128,0.0)(136,-0.4)(144,-0.7)(152,-0.5)};
\addplot[mem,hC] coordinates {(1,-2.9)(6,-2.3)(12,-1.7)(18,-1.2)(24,-0.8)(30,-0.3)(36,0.3)(44,0.9)(52,1.2)(60,1.3)(68,1.0)(76,0.7)(84,0.6)(92,0.4)(98,1.1)(104,0.7)(112,0.2)(120,0.0)(127,1.4)(132,0.9)(140,0.0)(146,-0.4)(152,-0.6)};
\addplot[mem,hG] coordinates {(1,-1.6)(6,-0.9)(12,-0.2)(18,0.5)(24,0.9)(30,1.2)(36,1.3)(44,1.3)(52,1.2)(60,1.0)(68,0.6)(76,0.2)(84,-0.1)(92,-0.3)(100,-0.2)(108,0.0)(116,-0.4)(124,-0.2)(132,-0.3)(140,-0.2)(146,0.2)(152,0.3)};
\addplot[mem,hE] coordinates {(1,-1.8)(6,-1.4)(12,-0.9)(18,-0.3)(24,0.2)(30,0.8)(36,1.0)(44,0.9)(52,0.7)(60,0.6)(68,0.9)(76,1.1)(84,1.2)(92,1.2)(100,1.3)(106,1.0)(112,0.5)(120,0.2)(128,0.0)(136,-0.3)(144,-0.2)(152,0.0)};
\addplot[mem,hF] coordinates {(1,-3.5)(6,-2.4)(12,-1.5)(18,-0.8)(24,0.0)(30,0.5)(36,0.6)(44,0.4)(52,0.6)(60,0.8)(68,0.6)(76,0.2)(84,-0.3)(92,-0.6)(100,-0.8)(108,-0.7)(116,-1.0)(124,-0.9)(132,-0.6)(140,-0.5)(146,-0.9)(152,-1.0)};
\addplot[mem,hH] coordinates {(1,-3.0)(6,-2.3)(12,-1.5)(18,-0.8)(24,-0.1)(30,0.6)(36,1.0)(44,1.2)(52,1.0)(60,0.8)(68,1.0)(76,0.9)(84,0.6)(92,0.3)(100,-0.1)(108,-0.2)(116,-0.5)(124,-0.9)(132,-1.2)(140,-1.4)(146,-1.4)(152,-1.5)};
\addplot[mem,hB] coordinates {(1,-1.9)(6,-1.3)(12,-0.7)(18,-0.2)(24,0.2)(30,0.5)(36,0.7)(44,1.1)(52,1.3)(60,1.2)(68,0.9)(76,0.4)(84,-0.2)(92,-0.6)(100,-0.9)(106,-1.2)(112,-1.1)(118,-0.6)(126,-0.3)(134,-0.6)(142,-0.9)(148,-1.0)(152,-1.1)};
\addplot[mem,hG] coordinates {(1,-2.5)(6,-2.0)(12,-1.6)(18,-1.0)(24,-0.3)(30,0.3)(36,0.5)(44,0.3)(52,0.0)(60,0.1)(68,0.3)(76,0.1)(84,-0.4)(92,-0.8)(100,-1.0)(108,-1.3)(116,-1.2)(124,-0.6)(132,-0.9)(140,-1.2)(146,-1.4)(152,-1.5)};
\addplot[proto] coordinates {(0.3,-1.94)(42,1.54)(111.5,-1.22)(150,0.24)};
\panelframe
\end{axis}

% facet strips
\begin{scope}[font=\fontsize{7}{8}\selectfont, text=grey10]
\draw[fill=grey85, draw=grey20, line width=0.55pt] (24.65pt,236.65pt) rectangle (273.35pt,249.5pt);
\node at (149pt,243.1pt) {1};
\draw[fill=grey85, draw=grey20, line width=0.55pt] (292.85pt,236.65pt) rectangle (541.55pt,249.5pt);
\node at (417.2pt,243.1pt) {2};
\draw[fill=grey85, draw=grey20, line width=0.55pt] (24.65pt,119.35pt) rectangle (273.35pt,132.35pt);
\node at (149pt,125.85pt) {3};
\draw[fill=grey85, draw=grey20, line width=0.55pt] (292.85pt,119.35pt) rectangle (541.55pt,132.35pt);
\node at (417.2pt,125.85pt) {4};
\end{scope}

% axis titles
\node[rotate=90, anchor=base, inner sep=0pt, font=\fontsize{8.75}{10}\selectfont] at (12pt,127.5pt) {value};
\node[anchor=base, inner sep=0pt, font=\fontsize{8.75}{10}\selectfont] at (283.3pt,0.8pt) {t};
\end{tikzpicture}
\end{document}
